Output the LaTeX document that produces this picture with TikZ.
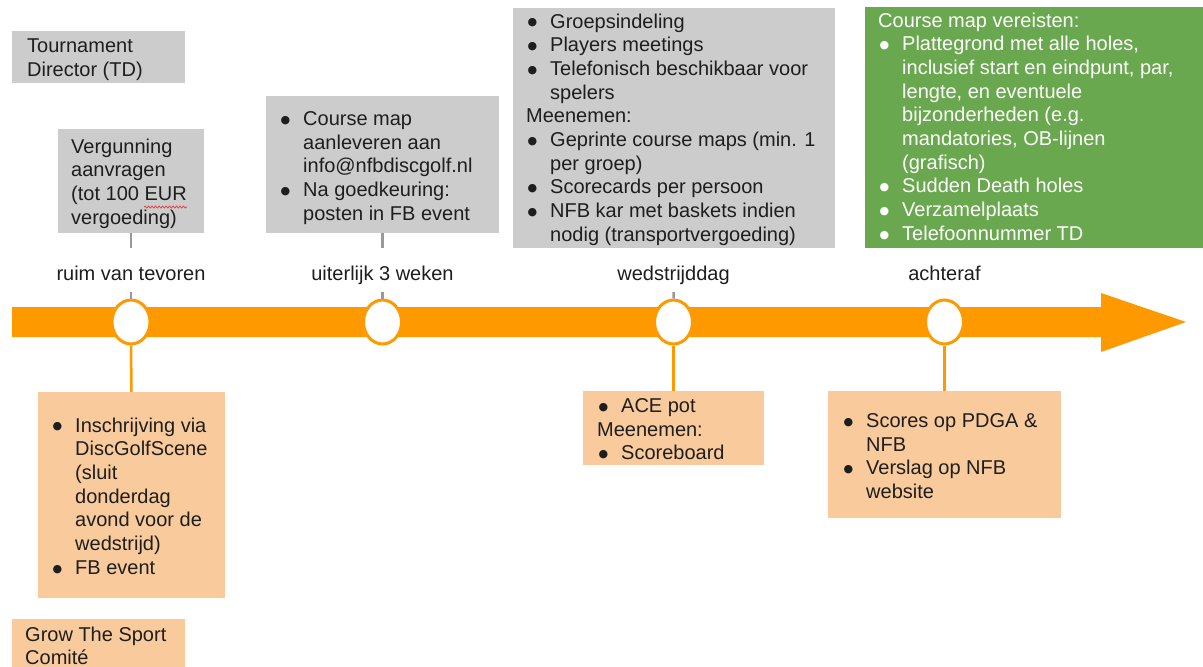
\documentclass[tikz,border=0pt]{standalone}
\usepackage{fontspec}
\setmainfont{Liberation Sans}
\newfontfamily\symfont{DejaVu Sans}
\usetikzlibrary{shapes.geometric,decorations.pathmorphing}
\definecolor{tlorange}{HTML}{FF9900}
\definecolor{boxgray}{HTML}{CCCCCC}
\definecolor{boxpeach}{HTML}{F9CB9C}
\definecolor{boxgreen}{HTML}{6AA84F}
\definecolor{linegray}{HTML}{999999}
\definecolor{textdark}{HTML}{1E1E1E}
\definecolor{squig}{HTML}{E53935}
\newcommand{\bdot}{\raisebox{2.2pt}{\symfont\fontsize{11}{11}\selectfont ●}}
\newcommand{\bitem}[1]{\makebox[24pt][l]{\hspace{1.5pt}\bdot}#1}
\newcommand{\cont}{\hspace*{24pt}}
\begin{document}
\begin{tikzpicture}[x=1pt,y=-1pt,
  box/.style={rectangle, inner sep=0pt, outer sep=0pt, anchor=north west},
  tx/.style={anchor=north west, inner sep=0pt, align=left, yshift=13.6pt,
    font=\fontsize{20}{23.7}\selectfont, execute at begin node=\strut, text=textdark},
  lab/.style={anchor=base, fill=white, inner xsep=4pt, inner ysep=0pt,
    text height=32pt, text depth=12pt, font=\fontsize{20}{24}\selectfont, text=textdark},
  dot/.style={ellipse, draw=tlorange, line width=3pt, fill=white,
    minimum width=38pt, minimum height=44pt, inner sep=0pt},
  gline/.style={draw=linegray, line width=2.5pt},
  oline/.style={draw=tlorange, line width=2.5pt}]
\useasboundingbox (0,0) rectangle (1203,667);
\fill[white] (0,0) rectangle (1203,667);

% boxes
\node[box, fill=boxgray, minimum width=173pt, minimum height=52pt] (td) at (12,31) {};
\node[box, fill=boxgray, minimum width=146pt, minimum height=104pt] (verg) at (58,129) {};
\node[box, fill=boxgray, minimum width=233pt, minimum height=137pt] (course) at (266,96) {};
\node[box, fill=boxgray, minimum width=322pt, minimum height=240pt] (wed) at (513,8) {};
\node[box, fill=boxgreen, minimum width=338pt, minimum height=241pt] (green) at (865,7) {};
\node[box, fill=boxpeach, minimum width=187pt, minimum height=206pt] (insch) at (38,392) {};
\node[box, fill=boxpeach, minimum width=173pt, minimum height=48pt] (grow) at (12,619) {};
\node[box, fill=boxpeach, minimum width=181pt, minimum height=74pt] (ace) at (583,391) {};
\node[box, fill=boxpeach, minimum width=233pt, minimum height=127pt] (scores) at (828,391) {};

% texts
\node[tx] (tdt) at (27,52) {Tournament\\Director (TD)};
\node[tx] (vergt) at (71,152) {Vergunning\\aanvragen\\(tot 100 EUR\\vergoeding)};
\draw[squig, line width=0.7pt, decorate, decoration={snake, amplitude=1pt, segment length=3.5pt}] (144,207) -- (187,207);
\node[tx] (courset) at (279,125) {\bitem{Course map}\\\cont aanleveren aan\\\cont info@nfbdiscgolf.nl\\\bitem{Na goedkeuring:}\\\cont posten in FB event};
\node[tx] (wedt) at (526,27) {\bitem{Groepsindeling}\\\bitem{Players meetings}\\\bitem{Telefonisch beschikbaar voor}\\\cont spelers\\Meenemen:\\\bitem{Geprinte course maps (min. 1}\\\cont per groep)\\\bitem{Scorecards per persoon}\\\bitem{NFB kar met baskets indien}\\\cont nodig (transportvergoeding)};
\node[tx, text=white] (greent) at (878,26) {Course map vereisten:\\\bitem{Plattegrond met alle holes,}\\\cont inclusief start en eindpunt, par,\\\cont lengte, en eventuele\\\cont bijzonderheden (e.g.\\\cont mandatories, OB-lijnen\\\cont (grafisch)\\\bitem{Sudden Death holes}\\\bitem{Verzamelplaats}\\\bitem{Telefoonnummer TD}};
\node[tx] (inscht) at (51,431) {\bitem{Inschrijving via}\\\cont DiscGolfScene\\\cont (sluit\\\cont donderdag\\\cont avond voor de\\\cont wedstrijd)\\\bitem{FB event}};
\node[tx] (acet) at (597,412) {\bitem{ACE pot}\\Meenemen:\\\bitem{Scoreboard}};
\node[tx] (scorest) at (842,427) {\bitem{Scores op PDGA \&}\\\cont NFB\\\bitem{Verslag op NFB}\\\cont website};
\node[tx] (growt) at (25,640) {Grow The Sport\\Comité};

% timeline arrow
\fill[tlorange] (12,307) -- (1101,307) -- (1101,293) -- (1186,322) -- (1101,352) -- (1101,337) -- (12,337) -- cycle;

% milestones
\node[dot] (c1) at (131,322) {};
\node[dot] (c2) at (382.5,322) {};
\node[dot] (c3) at (673.5,322) {};
\node[dot] (c4) at (944.5,322) {};

% connectors
\draw[gline] (verg.south) -- (c1.north);
\draw[gline] (course.south) -- (c2.north);
\draw[gline] (wed.south) -- (c3.north);
\draw[oline] (c1.south) -- (insch.north);
\draw[oline] (c3.south) -- (ace.north);
\draw[oline] (c4.south) -- (scores.north);

% labels
\node[lab] (l1) at (131,280) {ruim van tevoren};
\node[lab] (l2) at (382.5,280) {uiterlijk 3 weken};
\node[lab] (l3) at (673.5,280) {wedstrijddag};
\node[lab] (l4) at (944.5,280) {achteraf};
\end{tikzpicture}
\end{document}
